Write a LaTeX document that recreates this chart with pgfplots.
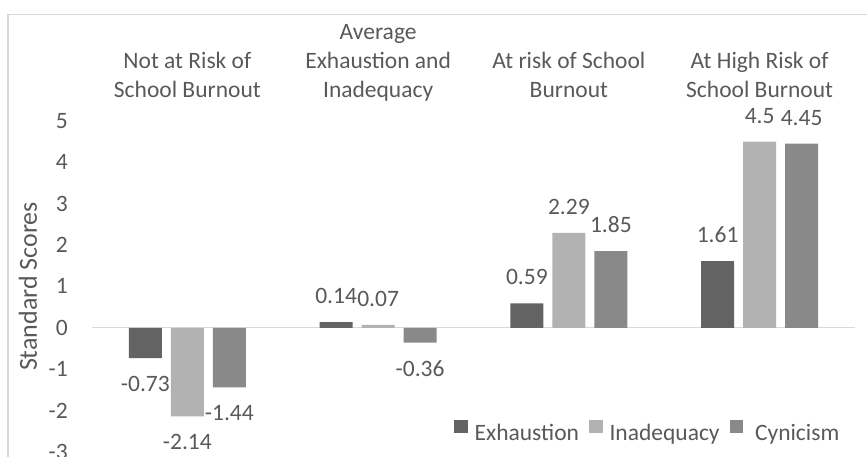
\documentclass[border=0pt]{standalone}
\usepackage{fontspec}
\setmainfont{Carlito}
\usepackage{pgfplots}
\pgfplotsset{compat=1.18}
\definecolor{txt}{HTML}{595959}
\definecolor{gridc}{HTML}{D9D9D9}
\definecolor{cExh}{HTML}{636363}
\definecolor{cIna}{HTML}{B2B2B2}
\definecolor{cCyn}{HTML}{898989}
\newcommand{\cf}{\fontsize{23.5bp}{29bp}\selectfont}
\begin{document}
\begin{tikzpicture}
\useasboundingbox (0,0) rectangle (867bp,457bp);
\draw[gridc, line width=1.3bp] (8bp,-5bp) -- (8bp,442.5bp) -- (870bp,442.5bp);
\begin{axis}[
  at={(92bp,5bp)}, anchor=south west,
  scale only axis, width=763bp, height=331.2bp,
  xmin=-0.5, xmax=3.5, ymin=-3, ymax=5,
  ybar=9bp, bar width=33bp,
  axis line style={draw=none},
  major tick length=0pt,
  xtick={0,1,2,3},
  xticklabels={{Not at Risk of\\School Burnout},{Average\\Exhaustion and\\Inadequacy},{At risk of School\\Burnout},{At High Risk of\\School Burnout}},
  xticklabel pos=upper,
  xticklabel style={align=center, anchor=south, inner sep=0pt, text depth=0pt, yshift=23.5bp, font=\cf, text=txt},
  ytick={-3,-2,-1,0,1,2,3,4,5},
  yticklabels={-3,-2,-1,0,1,2,3,4,5},
  yticklabel style={anchor=east, inner sep=0pt, xshift=-24bp, font=\cf, text=txt},
  extra y ticks={0}, extra y tick labels={},
  extra y tick style={grid=major, major grid style={gridc, line width=1.3bp}},
  ylabel={Standard Scores},
  every axis y label/.style={at={(axis description cs:-0.084,0.5)}, rotate=90, anchor=center, font=\fontsize{26bp}{30bp}\selectfont, text=txt},
  point meta=y,
  nodes near coords={\pgfmathprintnumber[fixed, precision=2, assume math mode=true]{\pgfplotspointmeta}},
  nodes near coords align={vertical},
  every node near coord/.append style={font=\cf, text=txt, inner ysep=18bp, inner xsep=0pt},
  legend style={at={(axis description cs:0.729,0.06)}, anchor=center, draw=none, fill=none, font=\cf, text=txt, legend columns=3,
    /tikz/every even column/.append style={column sep=7bp},
    nodes={inner xsep=3bp}},
  legend image code/.code={\fill[#1, draw=none] (0bp,0bp) rectangle (13.5bp,13.5bp);},
  clip=false,
]
\addplot[fill=cExh, draw=none] coordinates {(0,-0.73) (1,0.14) (2,0.59) (3,1.61)};
\addplot[fill=cIna, draw=none] coordinates {(0,-2.14) (1,0.07) (2,2.29) (3,4.5)};
\addplot[fill=cCyn, draw=none] coordinates {(0,-1.44) (1,-0.36) (2,1.85) (3,4.45)};
\legend{\hspace{4bp}Exhaustion,\hspace{4bp}Inadequacy,\hspace{9bp}Cynicism}
\end{axis}
\end{tikzpicture}
\end{document}
